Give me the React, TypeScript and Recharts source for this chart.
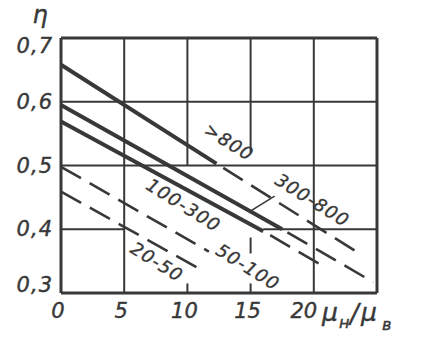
import { LineChart, Line, XAxis, YAxis, ReferenceLine, ReferenceDot } from 'recharts';

// efficiency η vs viscosity ratio μн/μв, one curve per range
const over800Solid = [{ x: 0, y: 0.658 }, { x: 12.3, y: 0.503 }];
const over800Dashed = [{ x: 12.3, y: 0.503 }, { x: 23.6, y: 0.362 }];
const r300to800Solid = [{ x: 0, y: 0.595 }, { x: 17.5, y: 0.4 }];
const r300to800Dashed = [{ x: 17.5, y: 0.4 }, { x: 24.7, y: 0.317 }];
const r100to300Solid = [{ x: 0, y: 0.569 }, { x: 16.0, y: 0.397 }];
const r100to300Dashed = [{ x: 16.0, y: 0.397 }, { x: 20.5, y: 0.345 }];
const r50to100 = [{ x: 0, y: 0.498 }, { x: 11.7, y: 0.365 }];
const r20to50 = [{ x: 0, y: 0.459 }, { x: 11.4, y: 0.333 }];

const xTicks = [0, 5, 10, 15, 20];
const yTicks = [0.3, 0.4, 0.5, 0.6, 0.7];

const curveLabels = [
  { text: '>800', x: 13.3, y: 0.537 },
  { text: '300-800', x: 19.9, y: 0.446 },
  { text: '100-300', x: 9.7, y: 0.438 },
  { text: '50-100', x: 14.8, y: 0.341 },
  { text: '20-50', x: 7.6, y: 0.349 },
];

// grid is broken where labels sit, so it is drawn piece by piece
const gridSegments = [
  [[0, 0.6], [25, 0.6]],
  [[0, 0.5], [25, 0.5]],
  [[0, 0.4], [5, 0.4]],
  [[16, 0.4], [25, 0.4]],
  [[5, 0.3], [5, 0.7]],
  [[10, 0.5], [10, 0.7]],
  [[10, 0.3], [10, 0.315]],
  [[15, 0.52], [15, 0.7]],
  [[15, 0.362], [15, 0.387]],
  [[15, 0.3], [15, 0.315]],
  [[20, 0.3], [20, 0.7]],
];
const frameSegments = [
  [[0, 0.3], [25, 0.3]],
  [[0, 0.7], [25, 0.7]],
  [[0, 0.3], [0, 0.7]],
  [[25, 0.3], [25, 0.7]],
];
const leader = [[14.95, 0.428], [16.9, 0.452]];

const INK = '#383838';
const FONT = '"DejaVu Sans", sans-serif';

const XTick = ({ x, y, payload }: any) => (
  <text
    x={x + (payload.value === 20 ? -10 : -3)}
    y={y + 25}
    textAnchor="middle"
    fontFamily={FONT}
    fontStyle="italic"
    fontSize={21}
    fill={INK}
    stroke={INK}
    strokeWidth={0.4}
  >
    {payload.value}
  </text>
);

const YTick = ({ x, y, payload }: any) => {
  const shift = payload.value === 0.7 ? 8 : payload.value === 0.3 ? -8 : 0;
  return (
    <text
      x={x - 8}
      y={y + shift + 7}
      textAnchor="end"
      fontFamily={FONT}
      fontStyle="italic"
      fontSize={21}
      letterSpacing={1}
      fill={INK}
      stroke={INK}
      strokeWidth={0.4}
    >
      {payload.value.toFixed(1).replace('.', ',')}
    </text>
  );
};

const seg = (s: number[][]) => [
  { x: s[0][0], y: s[0][1] },
  { x: s[1][0], y: s[1][1] },
];

export default function App() {
  const solid = { stroke: INK, strokeWidth: 4, dot: false, activeDot: false, isAnimationActive: false, type: 'linear' as const };
  const dashed = { stroke: INK, strokeWidth: 2.6, strokeDasharray: '23 10', dot: false, activeDot: false, isAnimationActive: false, type: 'linear' as const };

  return (
    <div style={{ position: 'absolute', left: 0, top: 0, width: 423, height: 341, background: '#fff' }}>
      <LineChart width={423} height={341} margin={{ top: 38, right: 46, left: 0, bottom: 0 }}>
        <XAxis
          dataKey="x"
          type="number"
          domain={[0, 25]}
          ticks={xTicks}
          axisLine={false}
          tickLine={false}
          tickSize={0}
          tickMargin={0}
          height={48}
          tick={<XTick />}
        />
        <YAxis
          type="number"
          domain={[0.3, 0.7]}
          ticks={yTicks}
          axisLine={false}
          tickLine={false}
          tickSize={0}
          tickMargin={0}
          width={61}
          tick={<YTick />}
        />
        {gridSegments.map((s, i) => (
          <ReferenceLine key={'g' + i} segment={seg(s)} stroke={INK} strokeWidth={2} ifOverflow="visible" />
        ))}
        {frameSegments.map((s, i) => (
          <ReferenceLine key={'f' + i} segment={seg(s)} stroke={INK} strokeWidth={3} ifOverflow="visible" />
        ))}
        <ReferenceLine segment={seg(leader)} stroke={INK} strokeWidth={1.6} />

        <Line data={over800Solid} dataKey="y" {...solid} />
        <Line data={over800Dashed} dataKey="y" {...dashed} strokeDashoffset={25} />
        <Line data={r300to800Solid} dataKey="y" {...solid} />
        <Line data={r300to800Dashed} dataKey="y" {...dashed} strokeDashoffset={27} />
        <Line data={r100to300Solid} dataKey="y" {...solid} />
        <Line data={r100to300Dashed} dataKey="y" {...dashed} strokeDashoffset={25} />
        <Line data={r50to100} dataKey="y" {...dashed} />
        <Line data={r20to50} dataKey="y" {...dashed} />

        {curveLabels.map((l) => (
          <ReferenceDot
            key={l.text}
            x={l.x}
            y={l.y}
            r={0}
            ifOverflow="visible"
            shape={(p: any) => (
              <text
                x={p.cx}
                y={p.cy}
                transform={`rotate(32 ${p.cx} ${p.cy})`}
                textAnchor="middle"
                dominantBaseline="central"
                fontFamily={FONT}
                fontStyle="italic"
                fontSize={18}
                letterSpacing={1.2}
                fill={INK}
                stroke={INK}
                strokeWidth={0.35}
              >
                {l.text}
              </text>
            )}
          />
        ))}
      </LineChart>
      <svg width={423} height={341} style={{ position: 'absolute', left: 0, top: 0, pointerEvents: 'none' }}>
        <g fontFamily={FONT} fontStyle="italic" fill={INK} stroke={INK} strokeWidth={0.4}>
          <text x={40} y={23} fontSize={24} textAnchor="middle">η</text>
          <text x={322} y={321} fontSize={25}>μ</text>
          <text x={339} y={328} fontSize={16}>н</text>
          <text x={350} y={323} fontSize={26}>/</text>
          <text x={361} y={321} fontSize={25}>μ</text>
          <text x={382} y={330} fontSize={16}>в</text>
        </g>
      </svg>
    </div>
  );
}
